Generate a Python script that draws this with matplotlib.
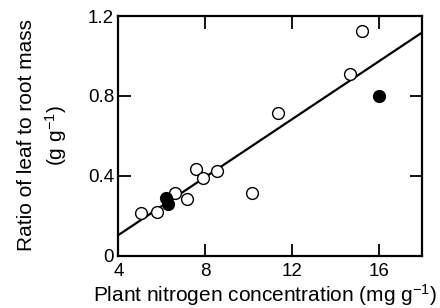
import matplotlib
matplotlib.use("Agg")
import matplotlib.pyplot as plt

plt.rcParams['font.family'] = ['Liberation Sans', 'DejaVu Sans']
plt.rcParams['mathtext.default'] = 'regular'

# data
open_x = [5.03, 5.80, 6.62, 7.15, 7.59, 7.88, 8.54, 10.18, 11.34, 14.66, 15.25]
open_y = [0.215, 0.218, 0.312, 0.284, 0.434, 0.387, 0.425, 0.315, 0.715, 0.912, 1.124]
filled_x = [6.19, 6.31, 16.03]
filled_y = [0.287, 0.259, 0.800]
fit_x = [4, 18]
fit_y = [0.103, 1.117]
xticks = [4, 8, 12, 16]
xticklabels = ['4', '8', '12', '16']
yticks = [0, 0.4, 0.8, 1.2]
yticklabels = ['0', '0.4', '0.8', '1.2']

fig = plt.figure(figsize=(4.4, 3.08), dpi=100)
ax = fig.add_axes([0.269, 0.170, 0.690, 0.778])

ax.plot(fit_x, fit_y, color='black', lw=1.6, zorder=2)
ax.plot(open_x, open_y, 'o', ms=8.5, mfc='white', mec='black', mew=1.0, zorder=3, clip_on=False)
ax.plot(filled_x, filled_y, 'o', ms=8.5, mfc='black', mec='black', mew=1.0, zorder=4, clip_on=False)

ax.set_xlim(4, 18)
ax.set_ylim(0, 1.2)
ax.set_xticks(xticks)
ax.set_xticklabels(xticklabels)
ax.set_yticks(yticks)
ax.set_yticklabels(yticklabels)
ax.tick_params(direction='in', length=9, width=1.3, top=True, right=True, labelsize=13.5, pad=3)
ax.tick_params(axis='x', pad=5)
for s in ax.spines.values():
    s.set_linewidth(1.6)

ax.set_xlabel('Plant nitrogen concentration (mg g$^{-1}$)', fontsize=15, labelpad=2)
ax.xaxis.label.set_x(0.484)
ax.set_ylabel('Ratio of leaf to root mass\n(g g$^{-1}$)', fontsize=15, linespacing=1.35)
ax.yaxis.set_label_coords(-0.163, 0.503)

fig.savefig('out.png', dpi=100)
